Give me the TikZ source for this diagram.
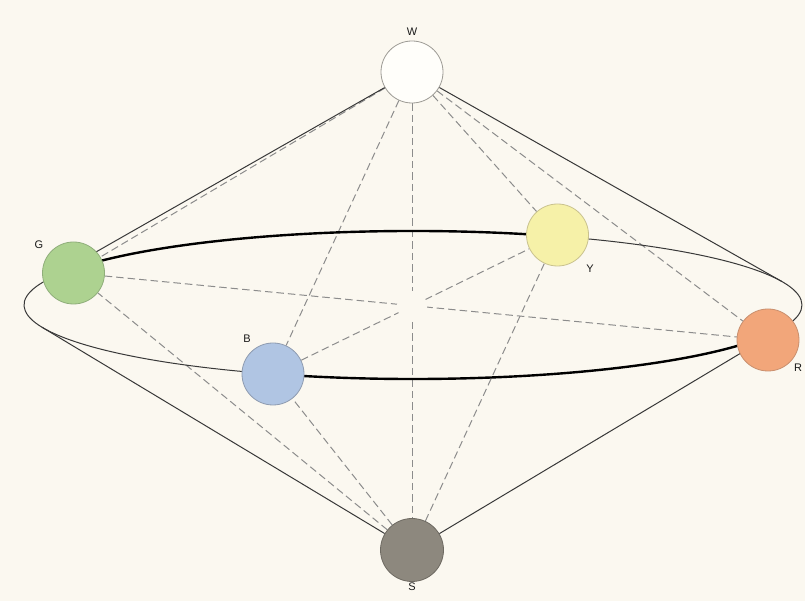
\documentclass[tikz,border=0pt]{standalone}
\usepackage{fontspec}
\setmainfont{Liberation Sans}
\usetikzlibrary{backgrounds,calc}
\definecolor{paper}{HTML}{FBF8F0}
\definecolor{wfill}{HTML}{FFFEFA}
\definecolor{wdraw}{HTML}{9C9A94}
\definecolor{gfill}{HTML}{ADD290}
\definecolor{gdraw}{HTML}{8FAE7A}
\definecolor{yfill}{HTML}{F6F1A8}
\definecolor{ydraw}{HTML}{C9C28E}
\definecolor{bfill}{HTML}{B0C5E3}
\definecolor{bdraw}{HTML}{8E9BB0}
\definecolor{rfill}{HTML}{F2A67A}
\definecolor{rdraw}{HTML}{C98F6E}
\definecolor{sfill}{HTML}{8D887E}
\definecolor{sdraw}{HTML}{6E6A62}
\begin{document}
\begin{tikzpicture}[x=1pt,y=1pt,
  ball/.style={circle, minimum size=62pt, inner sep=0pt, line width=0.8pt},
  lab/.style={font=\fontsize{11}{13}\selectfont, text=black!90, inner sep=0pt},
  thinline/.style={draw=black!78, line width=1pt},
  thickline/.style={draw=black, line width=2.4pt},
  dashline/.style={draw=black!45, line width=1pt, dash pattern=on 7.5pt off 4pt},
  ell/.style={x radius=389pt, y radius=74pt}
]
\useasboundingbox (0,0) rectangle (805,601);
\coordinate (c) at (413,296);
% balls
\node[ball, fill=wfill, draw=wdraw] (W) at (412,529) {};
\node[ball, fill=gfill, draw=gdraw] (G) at (73.5,328) {};
\node[ball, fill=yfill, draw=ydraw] (Y) at (557.5,366) {};
\node[ball, fill=bfill, draw=bdraw] (B) at (273,227) {};
\node[ball, fill=rfill, draw=rdraw] (R) at (768,261) {};
\node[ball, fill=sfill, draw=sdraw, minimum size=63pt] (S) at (412,51) {};
% labels
\node[lab] (Wl) at (412,569) {W};
\node[lab] (Gl) at (39,356) {G};
\node[lab] (Yl) at (590,332) {Y};
\node[lab] (Bl) at (247,262) {B};
\node[lab] (Rl) at (798,233) {R};
\node[lab] (Sl) at (412,14) {S};
% points on the ellipse
\coordinate (eG) at ($(c)+(150.8:389pt and 74pt)$);
\coordinate (eY) at ($(c)+(68.2:389pt and 74pt)$);
\coordinate (eR) at ($(c)+(-24.1:389pt and 74pt)$);
\coordinate (eB) at ($(c)+(248.9:389pt and 74pt)$);
\coordinate (tWl) at ($(c)+(161.5:389pt and 74pt)$);
\coordinate (tWr) at ($(c)+(18.56:389pt and 74pt)$);
\coordinate (tSl) at ($(c)+(197.5:389pt and 74pt)$);
\coordinate (tSr) at ($(c)+(-17.6:389pt and 74pt)$);
\begin{scope}[on background layer]
  \fill[paper] (0,0) rectangle (805,601);
  % dashed connectors
  \draw[dashline] (W) -- (G);
  \draw[dashline] (W) -- (B);
  \draw[dashline] (W) -- (S);
  \draw[dashline] (W) -- (Y);
  \draw[dashline] (W) -- (R);
  \draw[dashline] (S) -- (G);
  \draw[dashline] (S) -- (B);
  \draw[dashline] (S) -- (Y);
  \draw[dashline] (G) -- (R);
  \draw[dashline] (B) -- (Y);
  \fill[paper] (412,295) circle[radius=15pt];
  % cone outlines
  \draw[thinline] (W) -- (tWl);
  \draw[thinline] (W) -- (tWr);
  \draw[thinline] (S) -- (tSl);
  \draw[thinline] (S) -- (tSr);
  % ellipse
  \draw[thinline] (eG) arc[start angle=150.8, end angle=248.9, ell];
  \draw[thinline] (eY) arc[start angle=68.2, end angle=-24.1, ell];
  \draw[thickline] (eG) arc[start angle=150.8, end angle=68.2, ell];
  \draw[thickline] (eB) arc[start angle=248.9, end angle=335.9, ell];
\end{scope}
\end{tikzpicture}
\end{document}
